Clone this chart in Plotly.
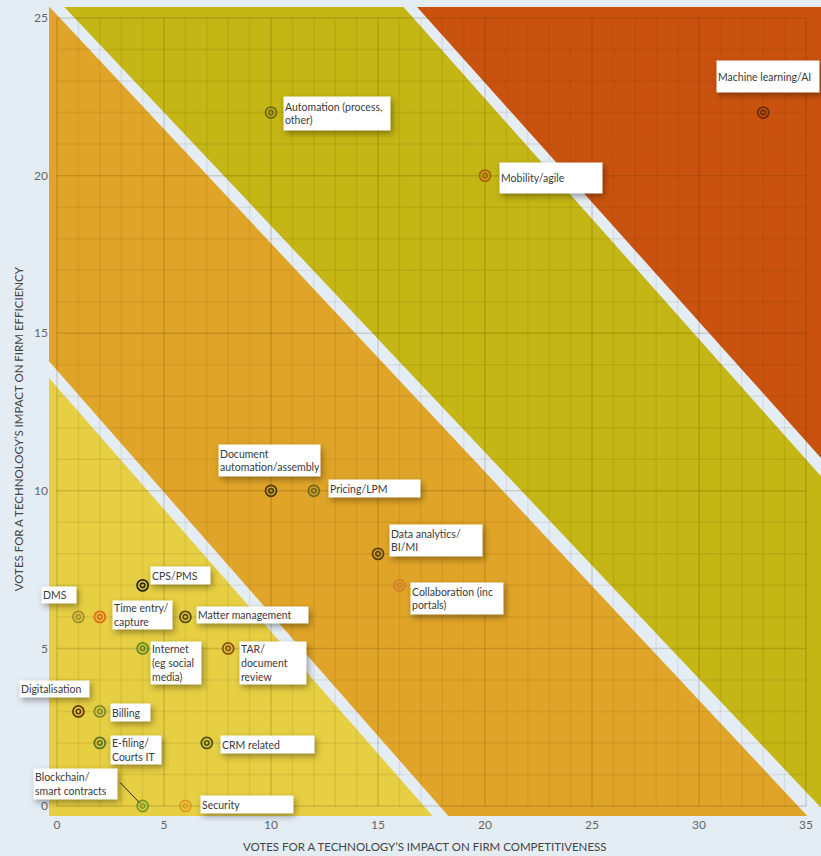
import plotly.graph_objects as go

# Technologies: votes for impact on competitiveness (x) and efficiency (y)
technologies = [
    "Machine learning/AI", "Automation (process,<br>other)", "Mobility/agile",
    "Document<br>automation/assembly", "Pricing/LPM", "Data analytics/<br>BI/MI",
    "Collaboration (inc<br>portals)", "CPS/PMS", "DMS", "Time entry/<br>capture",
    "Matter management", "Internet<br>(eg social<br>media)", "TAR/<br>document<br>review",
    "Digitalisation", "Billing", "E-filing/<br>Courts IT", "CRM related",
    "Blockchain/<br>smart contracts", "Security",
]
competitiveness = [33, 10, 20, 10, 12, 15, 16, 4, 1, 2, 6, 4, 8, 1, 2, 2, 7, 4, 6]
efficiency = [22, 22, 20, 10, 10, 8, 7, 7, 6, 6, 6, 5, 5, 3, 3, 2, 2, 0, 0]

x_ticks = [0, 5, 10, 15, 20, 25, 30, 35]
y_ticks = [0, 5, 10, 15, 20, 25]

# Marker colour per technology
marker_colors = [
    "#6b2c08", "#706a12", "#b0600f", "#4a3a12", "#6e6a22", "#5a4312",
    "#d4802a", "#2e2a10", "#a09030", "#e06a1a", "#5a4a12", "#5e8a22",
    "#8a5210", "#5e3c05", "#7a8a2a", "#5a7420", "#4e5218", "#7a9a2a", "#e09a20",
]

# Label boxes: (dx, dy) pixel offset of box left edge / vertical centre from the point, box width, height
label_boxes = [
    (-47, -36, 104, 31), (12, 1, 108, 33), (14, 2, 104, 30),
    (-53, -30, 103, 31), (14.5, -2.5, 93, 17), (11, -13.5, 94, 31),
    (11, 13, 94, 31), (7.5, -9.5, 61, 17), (-37, -22, 36, 16),
    (12, -2, 61, 28), (10.5, -1.5, 113, 16), (7.5, 15, 52, 42),
    (10.5, 15, 68, 42), (-59, -22.5, 71, 16), (10, 1, 41, 17),
    (10, 7.5, 52, 28), (13, 1.5, 95, 17), (-110, -22.5, 85, 30), (14.5, -1.5, 94, 17),
]

# Zone edges (two points each, data units) separating the coloured diagonal bands
zone_edges = {
    "A": [(-0.36, 13.57), (17.58, -0.34)],
    "B": [(-0.40, 14.13), (18.29, -0.32)],
    "C": [(-0.36, 25.36), (35.03, -0.29)],
    "D": [(0.327, 25.36), (35.65, -0.02)],
    "E": [(16.18, 25.36), (35.65, 10.50)],
    "F": [(16.81, 25.36), (35.65, 11.08)],
}

X_RANGE = [-0.374, 35.70]
Y_RANGE = [-0.317, 25.35]
BG = "#e5edf4"


def edge_y(name, x):
    (x0, y0), (x1, y1) = zone_edges[name]
    return y0 + (y1 - y0) * (x - x0) / (x1 - x0)


def path(points):
    return "M " + " L ".join(f"{px},{py}" for px, py in points) + " Z"


LO, HI = -5, 45
bands = [
    ("#e6cf42", [(LO, edge_y("A", LO)), (HI, edge_y("A", HI)), (HI, -10), (LO, -10)]),
    ("#e0a528", [(LO, edge_y("B", LO)), (HI, edge_y("B", HI)), (HI, edge_y("C", HI)), (LO, edge_y("C", LO))]),
    ("#c4b614", [(LO, edge_y("D", LO)), (HI, edge_y("D", HI)), (HI, edge_y("E", HI)), (LO, edge_y("E", LO))]),
    ("#c9530e", [(LO, edge_y("F", LO)), (HI, edge_y("F", HI)), (HI, 60), (LO, 60)]),
]

shapes = [
    dict(type="path", path=path(pts), xref="x", yref="y", fillcolor=col,
         line=dict(width=0), layer="below")
    for col, pts in bands
]

fig = go.Figure()

# Grid inside the 0..35 x 0..25 box, drawn as line traces so they sit above the bands
x_max, y_max = x_ticks[-1], y_ticks[-1]
minor_x, minor_y, major_x, major_y = [], [], [], []
for v in range(0, x_max + 1):
    tx, ty = (major_x, major_y) if v % 5 == 0 else (minor_x, minor_y)
    tx += [v, v, None]
    ty += [0, y_max, None]
for v in range(0, y_max + 1):
    tx, ty = (major_x, major_y) if v % 5 == 0 else (minor_x, minor_y)
    tx += [0, x_max, None]
    ty += [v, v, None]

fig.add_trace(go.Scatter(x=minor_x, y=minor_y, mode="lines", hoverinfo="skip",
                         line=dict(color="rgba(60,40,0,0.08)", width=1.5), showlegend=False))
fig.add_trace(go.Scatter(x=major_x, y=major_y, mode="lines", hoverinfo="skip",
                         line=dict(color="rgba(60,40,0,0.16)", width=1.5), showlegend=False))

# Concentric-ring markers: outer ring and inner ring
hover = [t.replace("<br>", " ") for t in technologies]
fig.add_trace(go.Scatter(
    x=competitiveness, y=efficiency, mode="markers", showlegend=False,
    text=hover, hoverinfo="text",
    marker=dict(symbol="circle-open", size=11, color=marker_colors,
                line=dict(width=1.8, color=marker_colors)),
    cliponaxis=False,
))
fig.add_trace(go.Scatter(
    x=competitiveness, y=efficiency, mode="markers", showlegend=False,
    hoverinfo="skip",
    marker=dict(symbol="circle-open", size=4.5, color=marker_colors,
                line=dict(width=1.6, color=marker_colors)),
    cliponaxis=False,
))

annotations = []
for name, cx, cy, (dx, dy, w, h) in zip(technologies, competitiveness, efficiency, label_boxes):
    annotations.append(dict(
        x=cx, y=cy, xref="x", yref="y", text=name, showarrow=False,
        xanchor="left", yanchor="middle", xshift=dx, yshift=-dy,
        align="left", valign="middle", width=w - 4, height=h - 2, borderpad=1,
        bgcolor="#ffffff", font=dict(family="Lato", size=10.5, color="#3a3a3a"),
    ))

# Leader line from the Blockchain label to its point
bc = technologies.index("Blockchain/<br>smart contracts")
annotations.append(dict(
    x=competitiveness[bc], y=efficiency[bc], xref="x", yref="y", text="",
    showarrow=True, arrowhead=0, arrowwidth=1, arrowcolor="#2a2a2a",
    ax=-24, ay=-25, standoff=4, font=dict(size=1),
))

# Axis titles
annotations.append(dict(
    x=0.4864, y=0, xref="paper", yref="paper", yanchor="middle", yshift=-30,
    text="VOTES FOR A TECHNOLOGY’S IMPACT ON FIRM COMPETITIVENESS", showarrow=False,
    font=dict(family="Lato", size=11.5, color="#444444"),
))
annotations.append(dict(
    x=0, y=0.478, xref="paper", yref="paper", xanchor="center", xshift=-31,
    text="VOTES FOR A TECHNOLOGY’S IMPACT ON FIRM EFFICIENCY", showarrow=False,
    textangle=-90, font=dict(family="Lato", size=11.5, color="#444444"),
))

axis_common = dict(showgrid=False, zeroline=False, showline=False, ticks="",
                   tickfont=dict(family="Lato", size=12, color="#666666"), fixedrange=True)

fig.update_layout(
    width=821, height=856,
    margin=dict(l=49, r=0, t=7, b=40),
    paper_bgcolor=BG, plot_bgcolor=BG,
    shapes=shapes, annotations=annotations,
    xaxis=dict(range=X_RANGE, tickvals=x_ticks, **axis_common),
    yaxis=dict(range=Y_RANGE, tickvals=y_ticks, **axis_common),
    showlegend=False,
)

shadow_js = (
    "var s=document.createElement('style');"
    "s.textContent='.annotation .bg{filter:drop-shadow(2px 3px 3px rgba(0,0,0,0.35));}';"
    "document.head.appendChild(s);"
)
fig.write_html("out.html", post_script=shadow_js)
